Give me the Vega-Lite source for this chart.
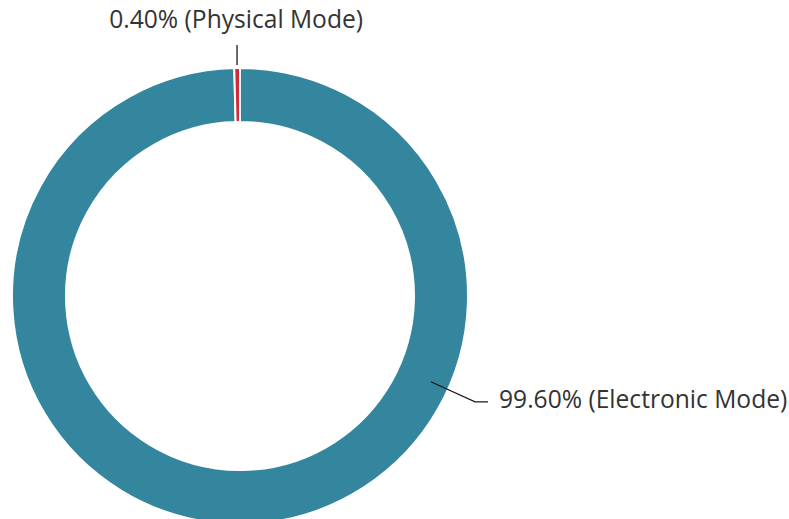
{
  "$schema": "https://vega.github.io/schema/vega-lite/v6.json",
  "width": 789,
  "height": 519,
  "autosize": {"type": "none"},
  "padding": 0,
  "background": "white",
  "config": {"view": {"stroke": null}},
  "datasets": {
    "share": [
      {"mode": "Electronic Mode", "value": 99.6},
      {"mode": "Physical Mode", "value": 0.4}
    ],
    "leaders": [
      {"g": "Physical Mode", "ord": 1, "x": -0.013, "y": 1.101},
      {"g": "Physical Mode", "ord": 2, "x": -0.013, "y": 1.013},
      {"g": "Electronic Mode", "ord": 1, "x": 0.837, "y": -0.376},
      {"g": "Electronic Mode", "ord": 2, "x": 1.031, "y": -0.464},
      {"g": "Electronic Mode", "ord": 3, "x": 1.088, "y": -0.464}
    ],
    "labels": [
      {"label": "0.40% (Physical Mode)", "side": "top", "x": -0.017, "y": 1.206},
      {"label": "99.60% (Electronic Mode)", "side": "right", "x": 1.136, "y": -0.4605}
    ]
  },
  "layer": [
    {
      "data": {"name": "share"},
      "mark": {"type": "arc", "outerRadius": 228, "innerRadius": 174, "stroke": "white", "strokeWidth": 2},
      "encoding": {
        "x": {"datum": 0, "type": "quantitative", "scale": {"domain": [-1.0526, 2.4079], "nice": false, "zero": false}, "axis": null},
        "y": {"datum": 0, "type": "quantitative", "scale": {"domain": [-0.978, 1.2982], "nice": false, "zero": false}, "axis": null},
        "theta": {"field": "value", "type": "quantitative", "stack": true},
        "order": {"field": "value", "sort": "descending"},
        "color": {"field": "mode", "type": "nominal", "legend": null,
          "scale": {"domain": ["Electronic Mode", "Physical Mode"], "range": ["#33869D", "#D22B38"]}}
      }
    },
    {
      "data": {"name": "leaders"},
      "mark": {"type": "line", "color": "#1a1a1a", "strokeWidth": 1.3},
      "encoding": {
        "x": {"field": "x", "type": "quantitative"},
        "y": {"field": "y", "type": "quantitative"},
        "detail": {"field": "g"},
        "order": {"field": "ord"}
      }
    },
    {
      "data": {"name": "labels"},
      "transform": [{"filter": "datum.side === 'top'"}],
      "mark": {"type": "text", "align": "center", "baseline": "middle", "font": "Open Sans", "fontSize": 24.6, "color": "#333333"},
      "encoding": {
        "x": {"field": "x", "type": "quantitative"},
        "y": {"field": "y", "type": "quantitative"},
        "text": {"field": "label"}
      }
    },
    {
      "data": {"name": "labels"},
      "transform": [{"filter": "datum.side === 'right'"}],
      "mark": {"type": "text", "align": "left", "baseline": "middle", "font": "Open Sans", "fontSize": 24.6, "color": "#333333"},
      "encoding": {
        "x": {"field": "x", "type": "quantitative"},
        "y": {"field": "y", "type": "quantitative"},
        "text": {"field": "label"}
      }
    }
  ]
}
